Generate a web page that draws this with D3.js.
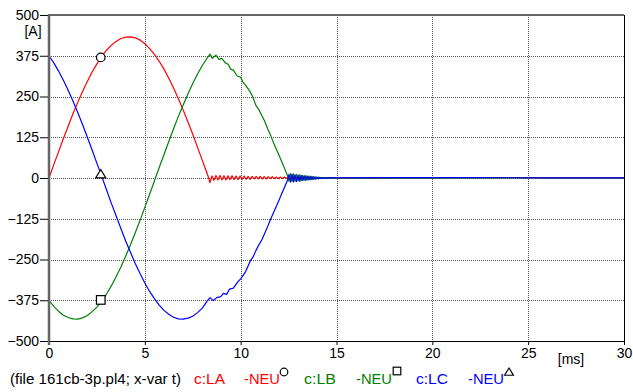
<!DOCTYPE html>
<html><head><meta charset="utf-8">
<script src="https://cdn.jsdelivr.net/npm/d3@7"></script>
<style>
html,body{margin:0;padding:0;background:#fff;}
svg{display:block;font-family:"Liberation Sans",Arial,sans-serif;}
</style></head><body>
<svg id="chart" width="633" height="392"></svg>
<script>
// ---- data (t in ms, current in A) ----
const xTicks = [0, 5, 10, 15, 20, 25, 30];
const yTicks = [500, 375, 250, 125, 0, -125, -250, -375, -500];
const xUnit = "[ms]";
const yUnit = "[A]";

const seriesLA = [[0,0],[0.25,41],[0.5,81],[0.75,121],[1,159],[1.25,197],[1.5,232],[1.75,265],[2,296],[2.25,325],[2.5,350],[2.75,373],[3,392],[3.25,407],[3.5,419],[3.75,428],[4,432],[4.25,433],[4.5,430],[4.75,423],[5,412],[5.25,397],[5.5,379],[5.75,358],[6,334],[6.25,306],[6.5,276],[6.75,243],[7,209],[7.25,172],[7.5,134],[7.75,94],[8,54],[8.25,14],[8.33,0],
 [8.4,-14],[8.5,6],[8.6,-7],[8.71,8],[8.81,-6],[8.92,8],[9.02,-6],[9.13,7],[9.23,-6],[9.34,7],[9.44,-5],[9.55,7],[9.65,-5],[9.76,6],[9.86,-5],[9.97,6],[10.07,-4],[10.18,6],[10.28,-4],[10.39,5],[10.49,-4],[10.6,5],[10.7,-3],[10.81,5],[10.91,-3],[11.02,5],[11.12,-3],[11.23,4],[11.33,-3],[11.44,4],[11.54,-2],[11.65,4],[11.75,-2],[11.86,3],[11.96,-2],[12.07,3],[12.17,-2],[12.28,3],[12.38,-1],[12.49,2],[12.6,-2],[12.75,2],[12.9,-1],[13.1,1],[13.3,0],[14,0.5],[16,0.5],[20,0.8],[25,1],[30,1]];

const seriesLB = [[0,-375],[0.25,-394],[0.5,-409],[0.75,-421],[1,-428],[1.25,-432],[1.5,-433],[1.75,-429],[2,-422],[2.25,-410],[2.5,-396],[2.75,-377],[3,-356],[3.25,-331],[3.5,-303],[3.75,-273],[4,-240],[4.25,-205],[4.5,-168],[4.75,-130],[5,-90],[5.25,-50],[5.5,-9],[5.75,32],[6,72],[6.25,112],[6.5,151],[6.75,189],[7,224],[7.25,258],[7.5,290],[7.75,319],[8,345],[8.25,368],[8.4,380],
 [8.52,367],[8.71,377],[8.87,364],[9.01,367],[9.22,352],[9.35,349],[9.48,334],[9.62,331],[9.82,313],[10,309],[10.11,295],[10.31,280],[10.49,265],[10.63,249],[10.8,222],[10.95,210],[11.1,192],[11.25,175],[11.4,152],[11.55,133],[11.7,110],[11.85,90],[12,70],[12.15,49],[12.3,28],[12.45,6],
 [12.52,-10],[12.6,14],[12.68,-11],[12.76,13],[12.84,-10],[12.92,11],[13,-9],[13.08,10],[13.16,-8],[13.24,8],[13.32,-7],[13.4,7],[13.48,-6],[13.56,6],[13.64,-5],[13.72,5],[13.8,-4],[13.88,4],[13.96,-3],[14.04,3],[14.12,-2],[14.2,2],[14.3,-1],[14.45,1],[14.6,-1],[15,0],[17,-0.5],[20,-0.5],[22,0.5],[25,0],[30,0]];

const seriesLC = [[0,375],[0.25,353],[0.5,328],[0.75,300],[1,269],[1.25,236],[1.5,201],[1.75,164],[2,125],[2.25,86],[2.5,45],[2.75,5],[3,-36],[3.25,-77],[3.5,-116],[3.75,-155],[4,-193],[4.25,-228],[4.5,-262],[4.75,-293],[5,-322],[5.25,-348],[5.5,-370],[5.75,-390],[6,-406],[6.25,-418],[6.5,-427],[6.75,-432],[7,-433],[7.25,-430],[7.5,-424],[7.75,-413],[8,-399],[8.23,-379],[8.4,-367],
 [8.57,-376],[8.75,-367],[8.96,-364],[9.1,-354],[9.27,-357],[9.41,-341],[9.62,-338],[9.82,-321],[10.02,-308],[10.26,-287],[10.49,-256],[10.65,-242],[10.8,-222],[10.95,-205],[11.1,-190],[11.25,-170],[11.4,-150],[11.55,-128],[11.7,-108],[11.85,-88],[12,-68],[12.15,-47],[12.3,-27],[12.45,-6],
 [12.52,11],[12.6,-13],[12.68,12],[12.76,-12],[12.84,10],[12.92,-11],[13,9],[13.08,-10],[13.16,8],[13.24,-8],[13.32,7],[13.4,-7],[13.48,6],[13.56,-6],[13.64,5],[13.72,-5],[13.8,4],[13.88,-4],[13.96,3],[14.04,-3],[14.12,2],[14.2,-2],[14.3,1],[14.45,-1],[14.6,1],[15,0.5],[18,1],[22,1],[26,0.5],[30,0.5]];

const markerT = 2.7;
const markerLA = 370, markerLB = -374, markerLC = 12;

const legendHead = "(file 161cb-3p.pl4; x-var t)";
const legendNames = ["c:LA", "-NEU", "c:LB", "-NEU", "c:LC", "-NEU"];

// ---- layout ----
const svg = d3.select("#chart");
const L = 49, R = 624, T = 15, B = 341;
const FS = 14;
const x = d3.scaleLinear().domain([0, 30]).range([L, R]);
const y = d3.scaleLinear().domain([-500, 500]).range([B, T]);
const colors = {LA: "#ff0000", LB: "#008000", LC: "#0000ff"};

// grid
const g = svg.append("g");
g.selectAll("line.hg").data(yTicks.filter(v => v > -500 && v < 500)).enter().append("line")
  .attr("x1", L).attr("x2", R).attr("y1", d => Math.round(y(d)) + 0.5).attr("y2", d => Math.round(y(d)) + 0.5)
  .attr("stroke", "#555").attr("stroke-width", 1).attr("stroke-dasharray", "1,1");
g.selectAll("line.vg").data(xTicks.filter(v => v > 0 && v < 30)).enter().append("line")
  .attr("x1", d => Math.round(x(d)) + 0.5).attr("x2", d => Math.round(x(d)) + 0.5).attr("y1", T).attr("y2", B)
  .attr("stroke", "#555").attr("stroke-width", 1).attr("stroke-dasharray", "1,1");

// axes via d3
const yAxis = d3.axisLeft(y).tickValues(yTicks).tickSize(9).tickPadding(1).tickFormat(d3.format("d"));
const ya = svg.append("g").attr("transform", `translate(${L},0)`).call(yAxis);
ya.select(".domain").remove();
ya.selectAll(".tick line").attr("stroke", "#000").attr("stroke-width", 1);
ya.selectAll(".tick text").attr("font-size", FS).attr("fill", "#000").attr("font-family", "Liberation Sans, Arial, sans-serif");

const xAxis = d3.axisBottom(x).tickValues(xTicks).tickSize(4).tickPadding(3).tickFormat(d3.format("d"));
const xa = svg.append("g").attr("transform", `translate(0,${B})`).call(xAxis);
xa.select(".domain").remove();
xa.selectAll(".tick line").attr("stroke", "#000");
xa.selectAll(".tick text").attr("font-size", FS).attr("fill", "#000").attr("font-family", "Liberation Sans, Arial, sans-serif");

// frame
svg.append("line").attr("x1", L).attr("x2", R).attr("y1", T).attr("y2", T).attr("stroke", "#666").attr("stroke-width", 2);
svg.append("line").attr("x1", L).attr("x2", R).attr("y1", B + 0.5).attr("y2", B + 0.5).attr("stroke", "#000").attr("stroke-width", 1);
svg.append("line").attr("x1", R + 0.5).attr("x2", R + 0.5).attr("y1", T).attr("y2", B + 4).attr("stroke", "#000").attr("stroke-width", 1);

// unit labels
svg.append("text").attr("x", 33).attr("y", 36).attr("text-anchor", "middle").attr("font-size", FS).text(yUnit);
svg.append("text").attr("x", 571).attr("y", 364).attr("text-anchor", "middle").attr("font-size", FS).text(xUnit);

// curves
const line = d3.line().x(d => x(d[0])).y(d => y(d[1]));
svg.append("clipPath").attr("id", "clip").append("rect").attr("x", L).attr("y", T - 2).attr("width", R - L).attr("height", B - T + 4);
const curves = svg.append("g").attr("clip-path", "url(#clip)");
[["LA", seriesLA], ["LB", seriesLB], ["LC", seriesLC]].forEach(([k, s]) => {
  curves.append("path").datum(s).attr("d", line).attr("fill", "none")
    .attr("stroke", colors[k]).attr("stroke-width", 1.2).attr("stroke-linejoin", "round");
});

// left axis line (drawn over)
svg.append("line").attr("x1", L).attr("x2", L).attr("y1", T - 1).attr("y2", B + 4).attr("stroke", "#666").attr("stroke-width", 2.5);

// markers
function drawMarker(sel, type, cx, cy, size) {
  if (type === "circle") {
    sel.append("circle").attr("cx", cx).attr("cy", cy).attr("r", size).attr("fill", "#fff").attr("stroke", "#000").attr("stroke-width", 1.2);
  } else if (type === "square") {
    sel.append("rect").attr("x", cx - size).attr("y", cy - size).attr("width", 2 * size).attr("height", 2 * size)
      .attr("fill", "#fff").attr("stroke", "#000").attr("stroke-width", 1.2);
  } else {
    const h = size * 1.8;
    sel.append("path").attr("d", `M${cx},${cy - h * 0.55}L${cx + size * 1.1},${cy + h * 0.45}L${cx - size * 1.1},${cy + h * 0.45}Z`)
      .attr("fill", "#fff").attr("stroke", "#000").attr("stroke-width", 1.2);
  }
}
drawMarker(svg, "circle", x(markerT), y(markerLA), 4.3);
drawMarker(svg, "square", x(markerT), y(markerLB), 4.3);
drawMarker(svg, "triangle", x(markerT), y(markerLC), 4.6);

// legend
const ly = 384;
const lg = svg.append("g").attr("font-size", FS);
lg.append("text").attr("x", 10).attr("y", ly).attr("fill", "#000")
  .attr("textLength", 171).attr("lengthAdjust", "spacingAndGlyphs").text(legendHead);
const legendX = [194, 244, 304, 356, 416, 468];
const legendW = [31, 36, 32, 36, 32, 36];
const legendC = [colors.LA, colors.LA, colors.LB, colors.LB, colors.LC, colors.LC];
legendNames.forEach((n, i) => {
  lg.append("text").attr("x", legendX[i]).attr("y", ly).attr("fill", legendC[i])
    .attr("textLength", legendW[i]).attr("lengthAdjust", "spacingAndGlyphs").text(n);
});
drawMarker(svg, "circle", 284, 372, 3.8);
drawMarker(svg, "square", 397, 371, 3.8);
drawMarker(svg, "triangle", 509, 372, 4.0);
</script>
</body></html>
